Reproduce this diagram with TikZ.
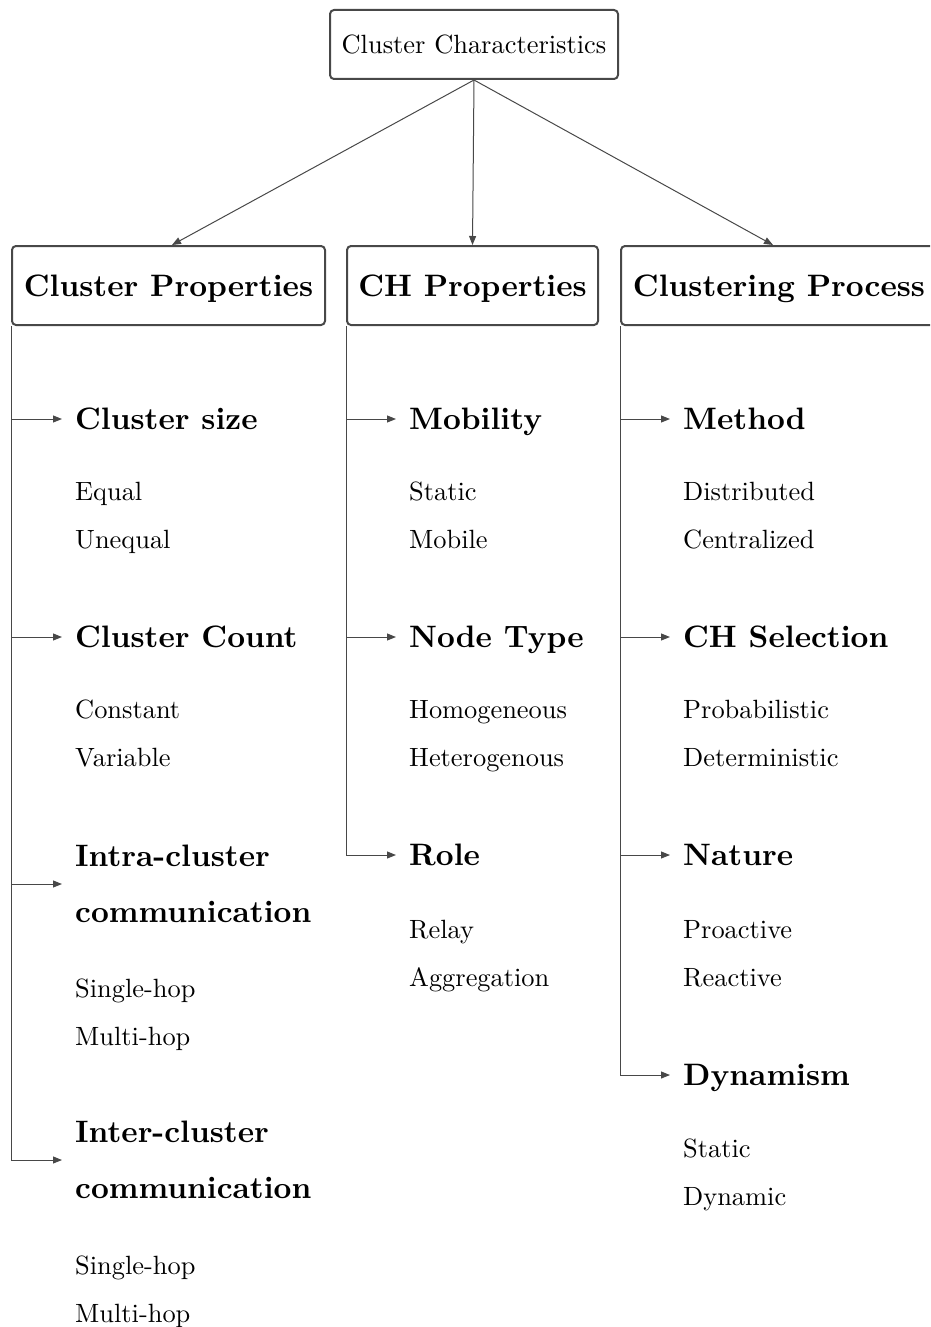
\documentclass[tikz,border=0pt]{standalone}
\usepackage{fontspec}
% Latin Modern at its 10pt design size, scaled up for every size
\setmainfont{lmroman10}[Extension=.otf, UprightFont=*-regular, BoldFont=*-bold, ItalicFont=*-italic, BoldItalicFont=*-bolditalic]
\usetikzlibrary{arrows.meta}
\definecolor{edge}{RGB}{72,72,72}
\begin{document}
\begin{tikzpicture}[x=1pt,y=-1pt,
  box/.style={draw=edge, line width=2pt, rounded corners=4pt, inner sep=0pt, align=center, text depth=0pt},
  titlebox/.style={box, font=\fontsize{26.4}{32}\selectfont, minimum width=288pt, minimum height=69pt},
  catbox/.style={box, font=\fontsize{31}{38}\selectfont\bfseries, minimum height=79pt},
  head/.style={anchor=west, inner sep=0pt, text depth=0pt, align=left, font=\fontsize{31}{56}\selectfont\bfseries},
  item/.style={anchor=base west, inner sep=0pt, font=\fontsize{26.4}{30}\selectfont},
  link/.style={draw=edge, line width=1pt, -{Triangle[length=9pt,width=7pt]}},
  branch/.style={link, shorten >=13pt}]
\useasboundingbox (0,0) rectangle (930,1327);
\clip (0,0) rectangle (930,1327);

% root and the three categories
\node[titlebox] (root) at (474,44.5) {Cluster Characteristics};
\node[catbox, minimum width=313pt] (cp)   at (168.5,285.5) {Cluster Properties};
\node[catbox, minimum width=251pt] (chp)  at (472.5,285.5) {CH Properties};
\node[catbox, minimum width=316pt] (proc) at (779,285.5)   {Clustering Process};

\draw[link] (root.south) -- ([xshift=3.5pt]cp.north);
\draw[link] (root.south) -- (chp.north);
\draw[link] (root.south) -- ([xshift=-6pt]proc.north);

% Cluster properties
\node[head] (cs)    at (75,419)  {Cluster size};
\node[item] (cs1)   at (75,500)  {Equal};
\node[item] (cs2)   at (75,548)  {Unequal};
\node[head] (cc)    at (75,637)  {Cluster Count};
\node[item] (cc1)   at (75,718)  {Constant};
\node[item] (cc2)   at (75,766)  {Variable};
\node[head] (intra) at (75,884)  {Intra-cluster\\communication};
\node[item] (in1)   at (75,997)  {Single-hop};
\node[item] (in2)   at (75,1045) {Multi-hop};
\node[head] (inter) at (75,1160) {Inter-cluster\\communication};
\node[item] (ie1)   at (75,1274) {Single-hop};
\node[item] (ie2)   at (75,1322) {Multi-hop};

% CH properties
\node[head] (mob)  at (409,419) {Mobility};
\node[item] (mob1) at (409,500) {Static};
\node[item] (mob2) at (409,548) {Mobile};
\node[head] (nt)   at (409,637) {Node Type};
\node[item] (nt1)  at (409,718) {Homogeneous};
\node[item] (nt2)  at (409,766) {Heterogenous};
\node[head] (role) at (409,855) {Role};
\node[item] (ro1)  at (409,938) {Relay};
\node[item] (ro2)  at (409,986) {Aggregation};

% Clustering process
\node[head] (meth) at (683,419)  {Method};
\node[item] (me1)  at (683,500)  {Distributed};
\node[item] (me2)  at (683,548)  {Centralized};
\node[head] (sel)  at (683,637)  {CH Selection};
\node[item] (se1)  at (683,718)  {Probabilistic};
\node[item] (se2)  at (683,766)  {Deterministic};
\node[head] (nat)  at (683,855)  {Nature};
\node[item] (na1)  at (683,938)  {Proactive};
\node[item] (na2)  at (683,986)  {Reactive};
\node[head] (dyn)  at (683,1075) {Dynamism};
\node[item] (dy1)  at (683,1157) {Static};
\node[item] (dy2)  at (683,1205) {Dynamic};

% branch connectors
\foreach \h in {cs,cc,intra,inter} \draw[branch] (cp.south west) |- (\h.west);
\foreach \h in {mob,nt,role} \draw[branch] (chp.south west) |- (\h.west);
\foreach \h in {meth,sel,nat,dyn} \draw[branch] (proc.south west) |- (\h.west);
\end{tikzpicture}
\end{document}
